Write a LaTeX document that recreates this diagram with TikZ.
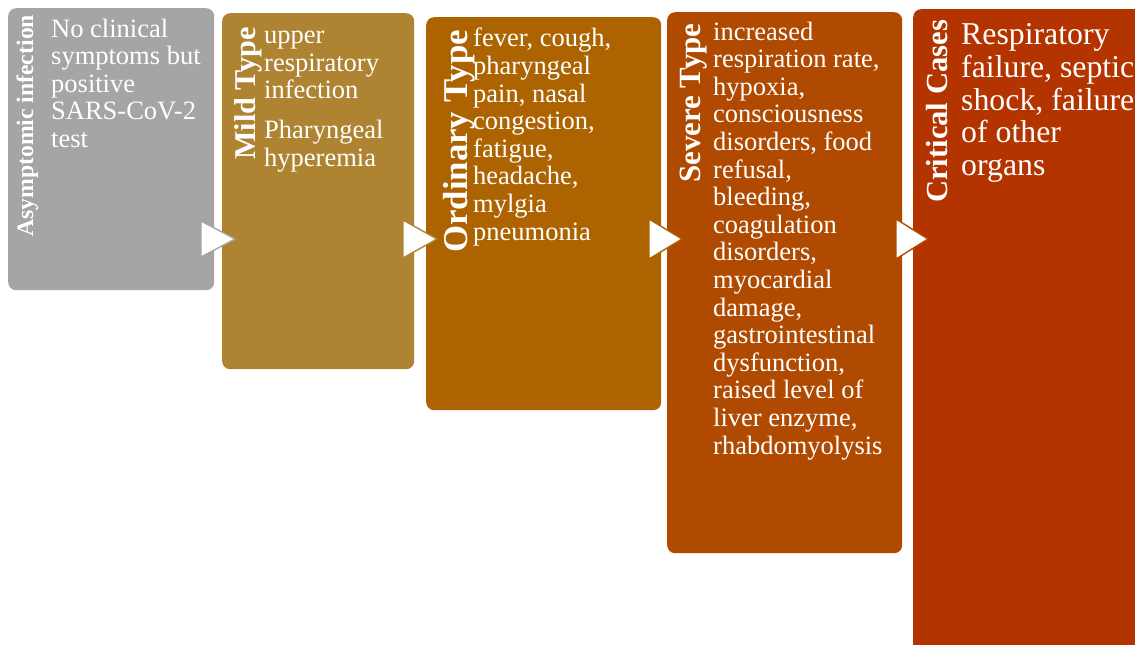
\documentclass[tikz,border=0pt]{standalone}
\usepackage{fontspec}
\setmainfont{Liberation Serif}
\definecolor{cA}{HTML}{A5A5A5}
\definecolor{cB}{HTML}{AE8432}
\definecolor{cC}{HTML}{AC6300}
\definecolor{cD}{HTML}{B04A00}
\definecolor{cE}{HTML}{B43400}
\tikzset{
  box/.style={rectangle, rounded corners=8pt, draw=none, inner sep=0pt, anchor=north west},
  body/.style={text=white, inner sep=0pt, anchor=base west, align=left, font=\fontsize{26.5}{27.6}\selectfont},
  title/.style={text=white, inner sep=0pt, rotate=90, anchor=base west},
  tri/.style={fill=white, line width=1.4pt, line join=miter},
}
\begin{document}
\begin{tikzpicture}[x=1pt,y=-1pt]
\useasboundingbox (0,0) rectangle (1135,645);
% boxes
\node[box, fill=cA, minimum width=206pt, minimum height=282pt] (b1) at (8,8) {};
\node[box, fill=cB, minimum width=192pt, minimum height=356pt] (b2) at (222,13) {};
\node[box, fill=cC, minimum width=235pt, minimum height=393pt] (b3) at (426,17) {};
\node[box, fill=cD, minimum width=235pt, minimum height=541pt] (b4) at (667,12) {};
\begin{scope}
\clip (0,0) rectangle (1135,645);
\node[box, fill=cE, minimum width=240pt, minimum height=660pt] (b5) at (913,9) {};
\end{scope}
% titles
\node[title, font=\fontsize{23.7}{26}\selectfont\bfseries] (t1) at (33,237) {Asymptomic infection};
\node[title, font=\fontsize{30.2}{33}\selectfont\bfseries] (t2) at (255,160) {Mild Type};
\node[title, font=\fontsize{34.8}{38}\selectfont\bfseries] (t3) at (467,253) {Ordinary Type};
\node[title, font=\fontsize{30.9}{34}\selectfont\bfseries] (t4) at (700,183) {Severe Type};
\node[title, font=\fontsize{30.6}{34}\selectfont\bfseries] (t5) at (947,203) {Critical Cases};
% texts (anchored at the baseline of the last line)
\node[body] (x1) at (51,147.4) {No clinical\\symptoms but\\positive\\SARS-CoV-2\\test};
\node[body] (x2) at (264,166) {upper\\respiratory\\infection\\[12pt]Pharyngeal\\hyperemia};
\node[body] (x3) at (473,240) {fever, cough,\\pharyngeal\\pain, nasal\\congestion,\\fatigue,\\headache,\\mylgia\\pneumonia};
\node[body] (x4) at (713,454) {increased\\respiration rate,\\hypoxia,\\consciousness\\disorders, food\\refusal,\\bleeding,\\coagulation\\disorders,\\myocardial\\damage,\\gastrointestinal\\dysfunction,\\raised level of\\liver enzyme,\\rhabdomyolysis};
\node[body, font=\fontsize{31.8}{32.75}\selectfont] (x5) at (961,175.5) {Respiratory\\failure, septic\\shock, failure\\of other\\organs};
% arrows
\coordinate (a1) at (201,239);
\coordinate (a2) at (403,239);
\coordinate (a3) at (649,239);
\coordinate (a4) at (896,239);
\draw[tri, draw=cA] ([yshift=18pt]a1) -- ++(34,18) -- ++(-34,18) -- cycle;
\draw[tri, draw=cB] ([yshift=19pt]a2) -- ++(34,19) -- ++(-34,19) -- cycle;
\draw[tri, draw=cC] ([yshift=20pt]a3) -- ++(33,20) -- ++(-33,20) -- cycle;
\draw[tri, draw=cD] ([yshift=20pt]a4) -- ++(32,20) -- ++(-32,20) -- cycle;
\end{tikzpicture}
\end{document}
